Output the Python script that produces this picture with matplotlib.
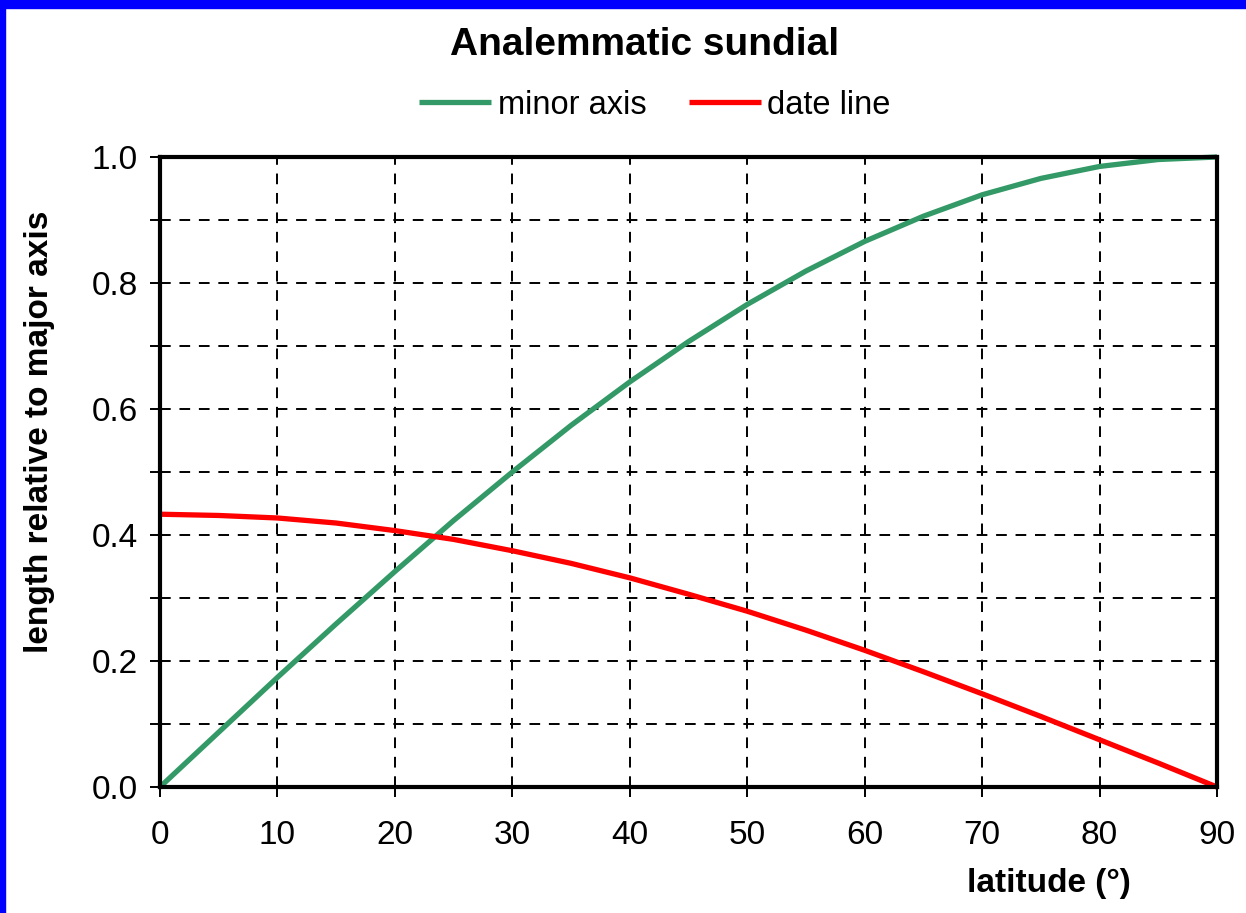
import matplotlib
matplotlib.use("Agg")
import matplotlib.pyplot as plt
from matplotlib.patches import Rectangle
from matplotlib.ticker import MultipleLocator

plt.rcParams['font.family'] = ['Liberation Sans', 'DejaVu Sans']

# values (5 degree steps)
latitude = [0, 5, 10, 15, 20, 25, 30, 35, 40, 45, 50, 55, 60, 65, 70, 75, 80, 85, 90]
minor_axis = [0.0, 0.087, 0.174, 0.259, 0.342, 0.423, 0.500, 0.574, 0.643, 0.707,
              0.766, 0.819, 0.866, 0.906, 0.940, 0.966, 0.985, 0.996, 1.0]
date_line = [0.433, 0.431, 0.427, 0.419, 0.407, 0.393, 0.375, 0.355, 0.332, 0.306,
             0.279, 0.249, 0.217, 0.183, 0.148, 0.112, 0.075, 0.038, 0.0]

x_ticks = [0, 10, 20, 30, 40, 50, 60, 70, 80, 90]

W, H = 1246, 913
fig = plt.figure(figsize=(W / 100, H / 100), dpi=100)
fig.patch.set_facecolor('white')

# blue frame at the top and left edge
fig.patches.append(Rectangle((0, 1 - 8 / H), 1, 8 / H, transform=fig.transFigure,
                             color='#0000FF', zorder=0))
fig.patches.append(Rectangle((0, 0), 5 / W, 1, transform=fig.transFigure,
                             color='#0000FF', zorder=0))

ax = fig.add_axes([160 / W, 1 - 787 / H, 1057 / W, 630 / H])

ax.plot(latitude, minor_axis, color='#339966', lw=3.8, label='minor axis',
        solid_capstyle='butt', clip_on=False, zorder=3)
ax.plot(latitude, date_line, color='#FF0000', lw=3.8, label='date line',
        solid_capstyle='butt', clip_on=False, zorder=3)

ax.set_xlim(0, 90)
ax.set_ylim(0, 1.0)
ax.set_xticks(x_ticks)
ax.yaxis.set_major_locator(MultipleLocator(0.2))
ax.yaxis.set_minor_locator(MultipleLocator(0.1))
ax.yaxis.set_major_formatter(lambda v, p: f'{v:.1f}')

ax.grid(True, which='both', color='black', ls=(0, (5.5, 4.5)), lw=1.4)
ax.tick_params(axis='both', which='both', direction='out', length=7, width=1.4,
               labelsize=24, colors='black')
ax.tick_params(axis='y', pad=9)
ax.tick_params(axis='x', pad=17)
for s in ax.spines.values():
    s.set_linewidth(3)
    s.set_zorder(4)

fig.text(645 / W, 1 - 45 / H, 'Analemmatic sundial', fontsize=28, fontweight='bold',
         ha='center', va='center')
ax.set_ylabel('length relative to major axis', fontsize=24, fontweight='bold')
ax.yaxis.set_label_coords(-(160 - 55) / 1057, (787 - 432) / 630)
ax.set_xlabel('latitude (°)', fontsize=24, fontweight='bold')
ax.xaxis.set_label_coords((1049 - 160) / 1057, -(883 - 787) / 630)
ax.xaxis.label.set_va('center')

leg = ax.legend(loc='center', bbox_to_anchor=(655 / W, 1 - 105 / H),
                bbox_transform=fig.transFigure, ncol=2, frameon=False,
                fontsize=23.5, handlelength=2.2, handletextpad=0.2, columnspacing=1.3)

fig.savefig('out.png', dpi=100, facecolor='white')
